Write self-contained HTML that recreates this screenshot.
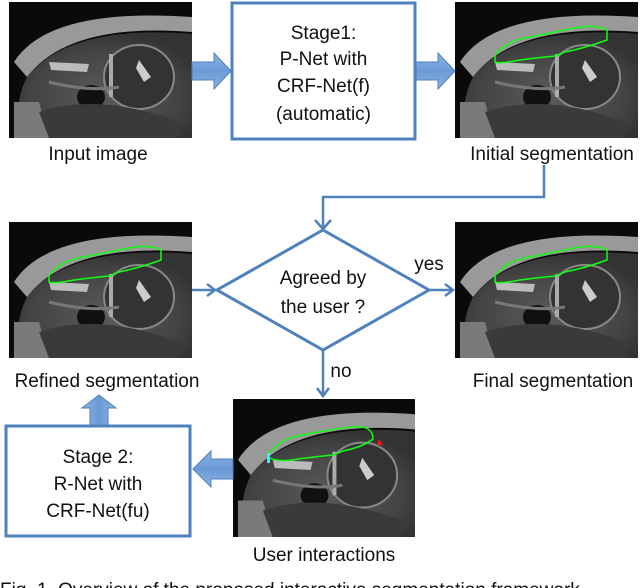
<!DOCTYPE html>
<html><head><meta charset="utf-8"><style>
html,body{margin:0;padding:0;background:#fff;width:640px;height:588px;overflow:hidden}
svg text{font-family:"Liberation Sans",sans-serif;fill:#111}
</style></head><body>
<svg width="640" height="588" viewBox="0 0 640 588" xmlns="http://www.w3.org/2000/svg">
<defs>
<radialGradient id="body" cx="0.5" cy="0.6" r="0.6">
<stop offset="0" stop-color="#5a5a5a"/><stop offset="0.7" stop-color="#444"/><stop offset="1" stop-color="#333"/>
</radialGradient>
<clipPath id="cp"><rect x="0" y="0" width="183" height="136"/></clipPath>
<symbol id="mri" viewBox="0 0 183 136" width="183" height="136" preserveAspectRatio="none">
<g clip-path="url(#cp)">
<rect width="183" height="136" fill="#0a0a0a"/>
<path d="M5 60 Q40 5 183 15 L183 30 Q60 20 18 75 Z" fill="#999"/>
<path d="M18 75 Q60 22 183 32 L183 136 L10 136 Q5 100 18 75Z" fill="url(#body)"/>
<path d="M5 100 L30 100 L40 136 L5 136Z" fill="#7a7a7a"/>
<ellipse cx="130" cy="75" rx="35" ry="32" fill="#333" stroke="#888" stroke-width="2"/>
<path d="M40 60 L80 62 L78 70 L42 68Z" fill="#bbb"/>
<path d="M130 58 L142 75 L135 80 L127 66Z" fill="#ccc"/>
<path d="M100 52 L104 52 L104 95 L100 95Z" fill="#aaa"/>
<ellipse cx="82" cy="95" rx="14" ry="12" fill="#111"/>
<path d="M30 110 Q90 90 170 120 L170 136 L40 136Z" fill="#3a3a3a"/>
<path d="M40 80 Q80 90 110 85" stroke="#777" stroke-width="3" fill="none"/>
</g>
</symbol>
<symbol id="seg" viewBox="0 0 183 136" width="183" height="136">
<path d="M40 54 Q50 40 70 36 Q100 30 120 26 Q140 22 152 28 L152 38 Q130 46 110 50 L100 54 Q80 56 65 58 Q45 62 40 60Z" fill="none" stroke="#1f1" stroke-width="1.5"/>
</symbol>
</defs>

<use href="#mri" x="9" y="2"/>
<use href="#mri" x="455" y="2"/><use href="#seg" x="455" y="2"/>
<use href="#mri" x="9" y="222"/><use href="#seg" x="9" y="222"/>
<use href="#mri" x="455" y="222"/><use href="#seg" x="455" y="222"/>
<use href="#mri" x="233" y="399" width="182" height="138"/>
<g transform="translate(233,399)"><path d="M35 55 Q50 38 70 36 Q100 30 120 28 Q140 26 140 40 Q130 48 110 52 L100 56 Q80 58 65 60 Q45 64 35 58Z" fill="none" stroke="#1f1" stroke-width="1.5"/>
<rect x="34" y="54" width="3" height="10" fill="#3ef"/><path d="M146 40 L150 46 L144 46Z" fill="#f11"/></g>

<rect x="232" y="3" width="183" height="136" fill="#fff" stroke="#4f81bd" stroke-width="3"/>
<text x="323.5" y="39" font-size="19" text-anchor="middle">Stage1:</text>
<text x="323.5" y="65" font-size="19" text-anchor="middle">P-Net with</text>
<text x="323.5" y="92" font-size="19" text-anchor="middle">CRF-Net(f)</text>
<text x="323.5" y="120" font-size="19" text-anchor="middle">(automatic)</text>

<defs><linearGradient id="ba" x1="0" y1="0" x2="0" y2="1"><stop offset="0" stop-color="#8db3e2"/><stop offset="0.5" stop-color="#6a9ad6"/><stop offset="1" stop-color="#8db3e2"/></linearGradient>
<linearGradient id="bv" x1="0" y1="0" x2="1" y2="0"><stop offset="0" stop-color="#8db3e2"/><stop offset="0.5" stop-color="#6a9ad6"/><stop offset="1" stop-color="#8db3e2"/></linearGradient></defs>
<path d="M192 62 L214 62 L214 53 L231 71 L214 89 L214 80 L192 80Z" fill="url(#ba)" stroke="#4f81bd" stroke-width="1"/>
<path d="M416 62 L438 62 L438 53 L455 71 L438 89 L438 80 L416 80Z" fill="url(#ba)" stroke="#4f81bd" stroke-width="1"/>
<path d="M233 459 L211 459 L211 451 L193 469 L211 487 L211 479 L233 479Z" fill="url(#ba)" stroke="#4f81bd" stroke-width="1"/>
<path d="M90 425 L90 408 L82 408 L99 395 L116 408 L108 408 L108 425Z" fill="url(#bv)" stroke="#4f81bd" stroke-width="1"/>

<rect x="6" y="426" width="184" height="110" fill="#fff" stroke="#4f81bd" stroke-width="3"/>
<text x="98" y="463" font-size="19" text-anchor="middle">Stage 2:</text>
<text x="98" y="490" font-size="19" text-anchor="middle">R-Net with</text>
<text x="98" y="517" font-size="19" text-anchor="middle">CRF-Net(fu)</text>

<g stroke="#4f81bd" stroke-width="2.5" fill="none">
<path d="M544 165 L544 197 L323 197 L323 228"/>
<path d="M315 220 L323 229 L331 220"/>
<polygon points="323,230 429,290 323,350 217,290" stroke-width="3" fill="#fff"/>
<path d="M192 290 L215 290"/><path d="M207 284 L215 290 L207 296"/>
<path d="M429 290 L453 290"/><path d="M445 284 L453 290 L445 296"/>
<path d="M323 350 L323 396"/><path d="M317 388 L323 396 L329 388"/>
</g>
<text x="323" y="284" font-size="19" text-anchor="middle">Agreed by</text>
<text x="323" y="313" font-size="19" text-anchor="middle">the user ?</text>
<text x="429" y="270" font-size="19" text-anchor="middle">yes</text>
<text x="341" y="377" font-size="19" text-anchor="middle">no</text>

<text x="98" y="160" font-size="19" text-anchor="middle">Input image</text>
<text x="552" y="160" font-size="19" text-anchor="middle">Initial segmentation</text>
<text x="107" y="387" font-size="19" text-anchor="middle">Refined segmentation</text>
<text x="553" y="387" font-size="19" text-anchor="middle">Final segmentation</text>
<text x="324" y="561" font-size="19" text-anchor="middle">User interactions</text>
<text x="0" y="596" font-size="19" fill="#222">Fig. 1. Overview of the proposed interactive segmentation framework</text>
</svg>
</body></html>
